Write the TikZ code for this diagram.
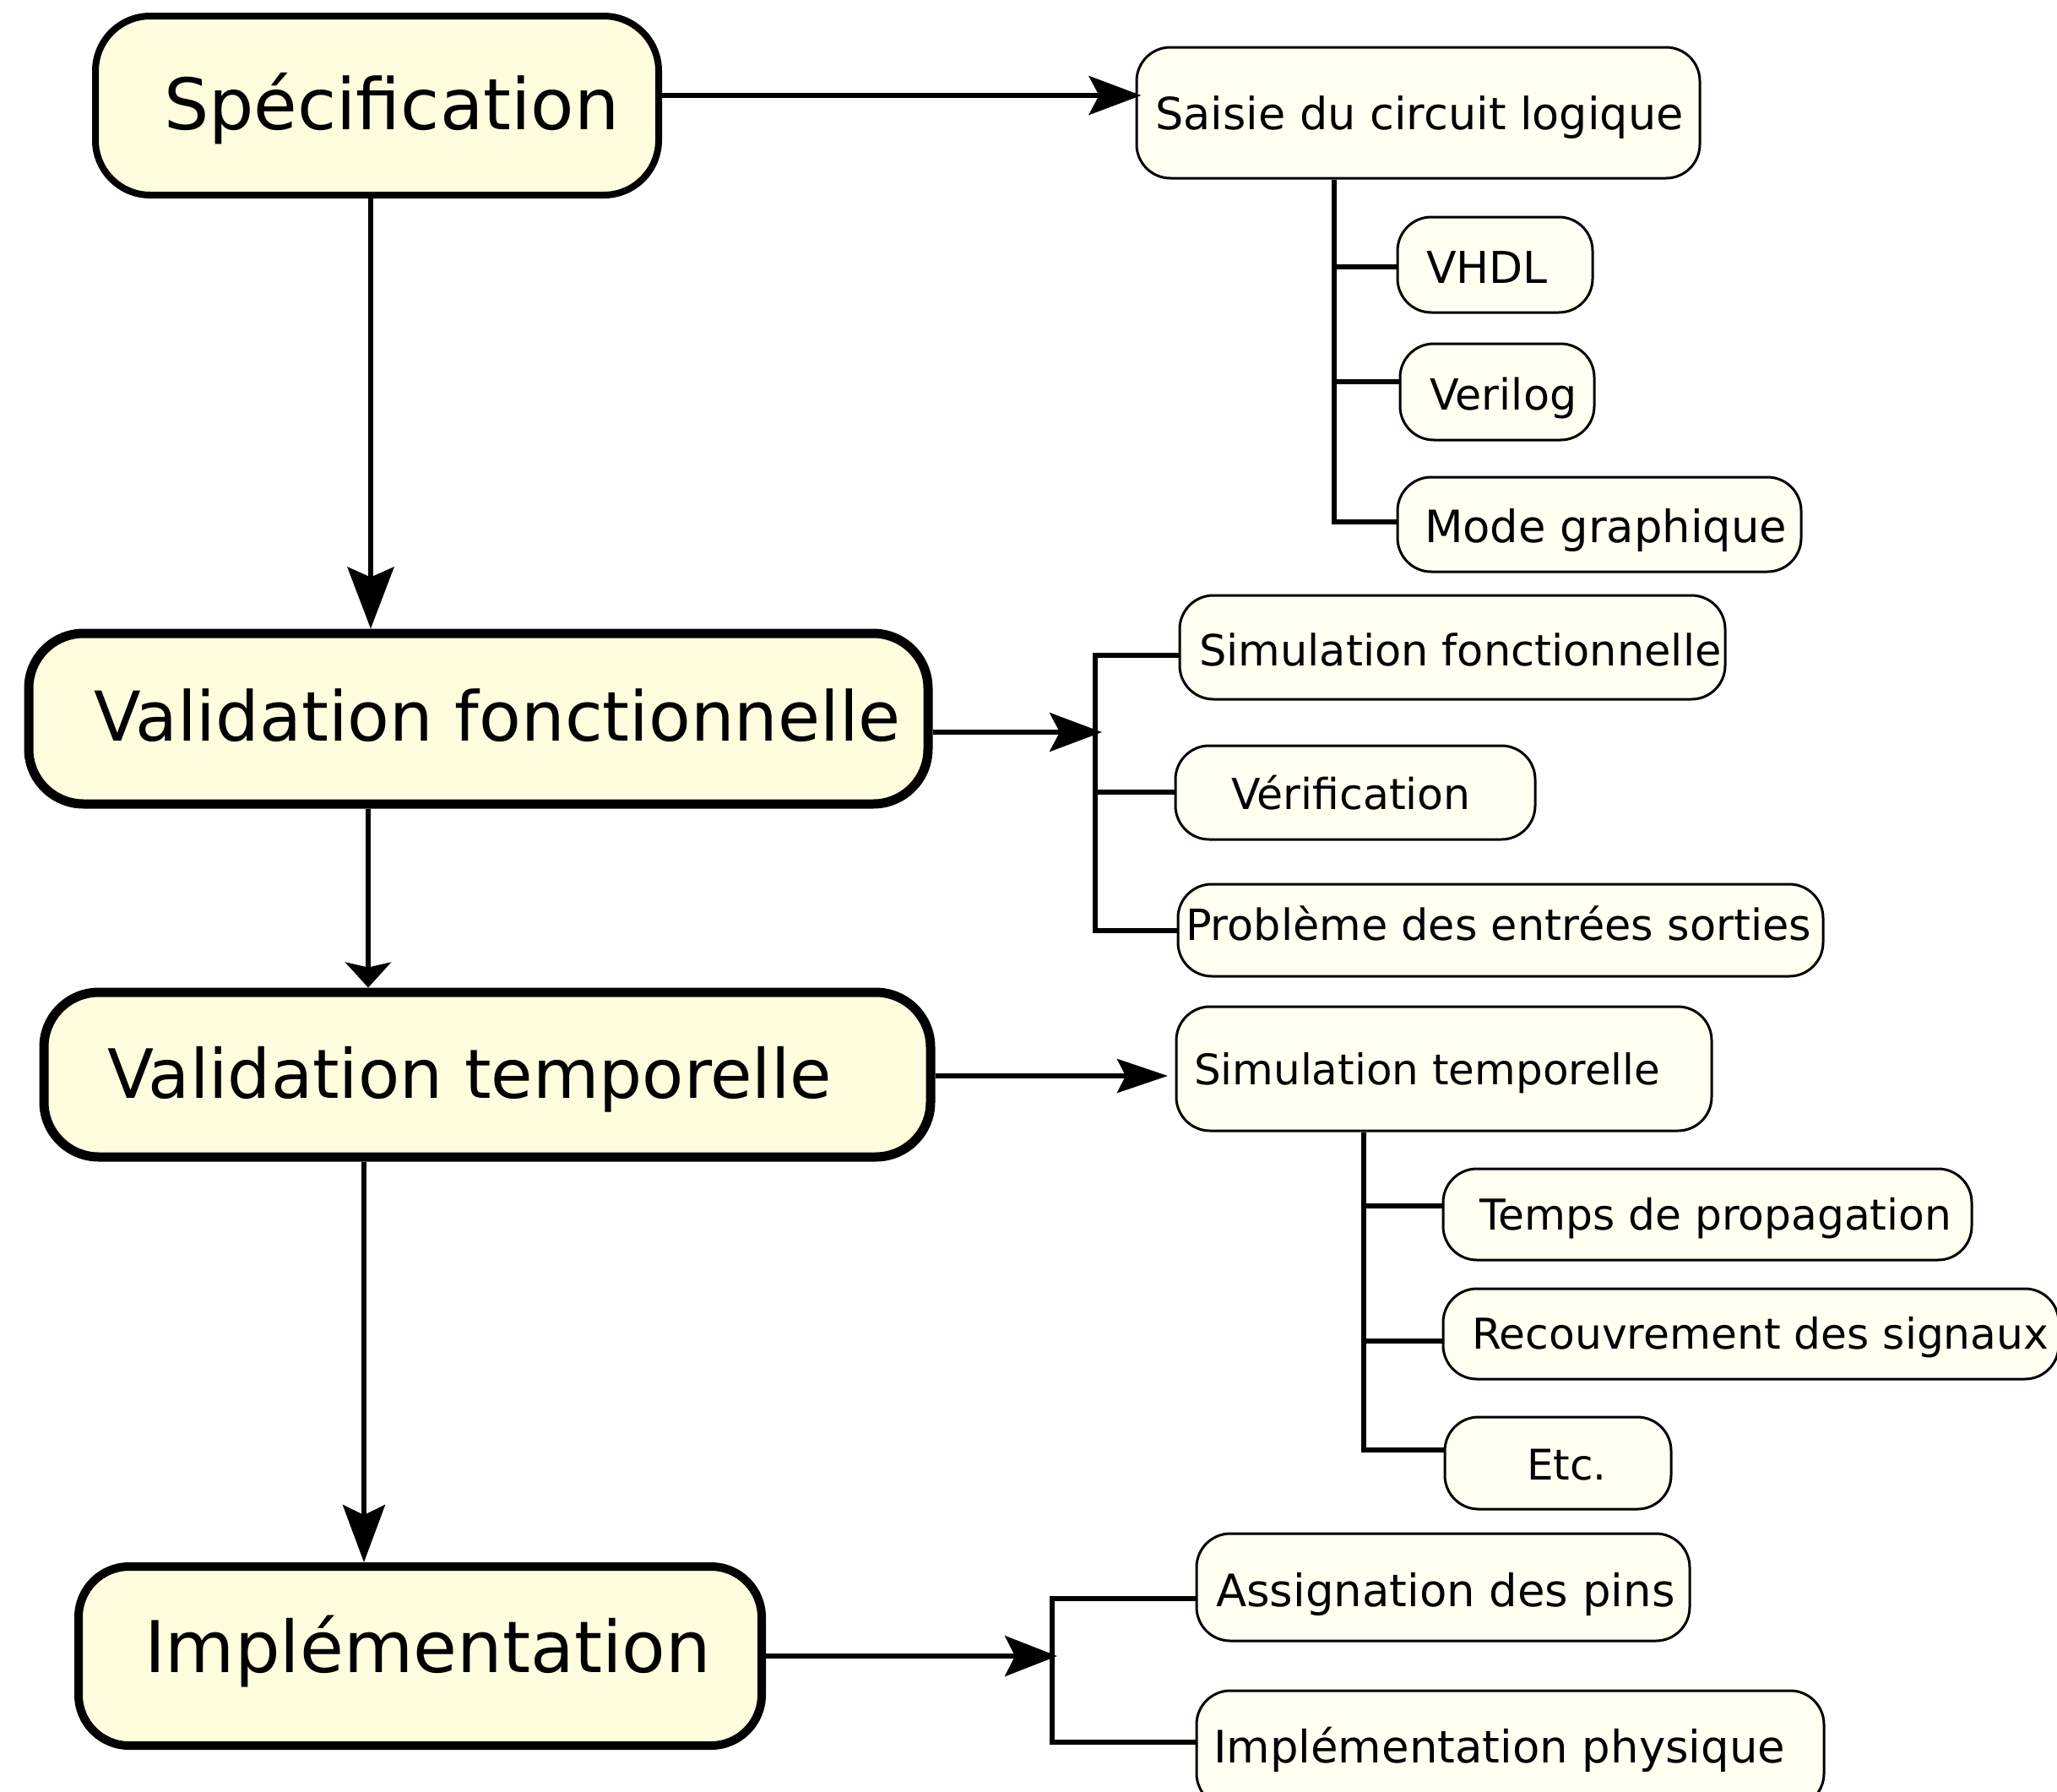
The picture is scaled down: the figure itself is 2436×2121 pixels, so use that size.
\documentclass[tikz,border=0pt]{standalone}
\usepackage{fontspec}
\setmainfont{DejaVu Sans}
\usetikzlibrary{arrows.meta}

\definecolor{mainfill}{HTML}{FFFDDE}
\definecolor{subfill}{HTML}{FFFFF2}

% text placed relative to the node centre: x offset of the origin, raise of the baseline, size
\newcommand\boxtext[4]{\makebox[0pt][l]{\hspace*{#1}\raisebox{#2}[0pt][0pt]{\fontsize{#3}{#3}\selectfont #4}}}

\begin{document}
\begin{tikzpicture}[x=1pt,y=-1pt,
  stage/.style={draw=black, fill=mainfill, rounded corners=65pt, inner sep=0pt, text height=0pt, text depth=0pt},
  task/.style={draw=black, fill=subfill, line width=3pt, rounded corners=40pt, inner sep=0pt, text height=0pt, text depth=0pt},
  link/.style={line width=5.5pt},
  tree/.style={line width=5.5pt}
]
\path[use as bounding box] (0,0) rectangle (2436,2121);
\clip (0,0) rectangle (2436,2121);
\fill[white] (0,0) rectangle (2436,2121);

% main stages
\node[stage, line width=8pt, minimum width=667pt, minimum height=212pt] (spec) at (446.5,125)
  {\boxtext{-252.5pt}{-28pt}{84}{Spécification}};
\node[stage, line width=11pt, minimum width=1065pt, minimum height=202pt] (vf) at (566.5,851)
  {\boxtext{-455.5pt}{-26pt}{81.4}{Validation fonctionnelle}};
\node[stage, line width=11pt, minimum width=1050pt, minimum height=195pt] (vt) at (577,1272.5)
  {\boxtext{-450pt}{-27.5pt}{80.5}{Validation temporelle}};
\node[stage, line width=10pt, minimum width=809pt, minimum height=212pt, rounded corners=60pt] (impl) at (497.5,1961)
  {\boxtext{-326.5pt}{-19pt}{84.5}{Implémentation}};

% tasks of each stage
\node[task, minimum width=667pt, minimum height=155pt] (saisie) at (1679.5,133.5)
  {\boxtext{-311.5pt}{-19.5pt}{52.5}{Saisie du circuit logique}};
\node[task, minimum width=231pt, minimum height=113pt] (vhdl) at (1770.5,313.5)
  {\boxtext{-81.5pt}{-21.5pt}{52}{VHDL}};
\node[task, minimum width=230pt, minimum height=114pt] (verilog) at (1773,464)
  {\boxtext{-80pt}{-21pt}{50.7}{Verilog}};
\node[task, minimum width=478pt, minimum height=112pt] (mode) at (1894,621)
  {\boxtext{-207pt}{-21pt}{52.8}{Mode graphique}};

\node[task, minimum width=646pt, minimum height=123pt] (simf) at (1720,766.5)
  {\boxtext{-300pt}{-21.5pt}{51}{Simulation fonctionnelle}};
\node[task, minimum width=426pt, minimum height=111pt] (verif) at (1605,938.5)
  {\boxtext{-147pt}{-19.5pt}{50.5}{Vérification}};
\node[task, minimum width=764pt, minimum height=109pt] (probl) at (1777,1101.5)
  {\boxtext{-373pt}{-11.5pt}{50.9}{Problème des entrées sorties}};

\node[task, minimum width=634pt, minimum height=147pt] (simt) at (1710,1265.5)
  {\boxtext{-296pt}{-18.5pt}{50}{Simulation temporelle}};
\node[task, minimum width=626pt, minimum height=108pt] (temps) at (2022,1438)
  {\boxtext{-270pt}{-18pt}{50.3}{Temps de propagation}};
\node[task, minimum width=729pt, minimum height=107pt] (recouv) at (2073.5,1579.5)
  {\boxtext{-330.5pt}{-17.5pt}{50.3}{Recouvrement des signaux}};
\node[task, minimum width=268pt, minimum height=109pt] (etc) at (1845,1732.5)
  {\boxtext{-37pt}{-19.5pt}{50}{Etc.}};

\node[task, minimum width=584pt, minimum height=127pt] (assign) at (1709,1879.5)
  {\boxtext{-269pt}{-22.5pt}{52.9}{Assignation des pins}};
\node[task, minimum width=743pt, minimum height=138pt] (physique) at (1788.5,2071)
  {\boxtext{-351.5pt}{-16pt}{52.9}{Implémentation physique}};

% junction points of the trees
\coordinate (j2) at (1305,867);
\coordinate (j4) at (1252,1961);
\coordinate (a1) at (1580,316);
\coordinate (a2) at (1580,452);
\coordinate (a3) at (1580,618);
\coordinate (b1) at (1297,776);
\coordinate (b2) at (1297,938);
\coordinate (b3) at (1297,1102);
\coordinate (c1) at (1615,1428);
\coordinate (c2) at (1615,1588);
\coordinate (c3) at (1615,1717);
\coordinate (d1) at (1246,1893);
\coordinate (d2) at (1246,2063);

% flow between stages
\draw[link, -{Stealth[length=73pt, width=55pt, inset=12pt]}] (spec.south -| 439,0) -- (vf.north -| 439,0);
\draw[link, -{Stealth[length=30pt, width=54pt, inset=6pt]}] (vf.south -| 436,0) -- (vt.north -| 436,0);
\draw[link, -{Stealth[length=68pt, width=50pt, inset=12pt]}] (vt.south -| 431,0) -- (impl.north -| 431,0);

% stages to their tasks
\draw[link, -{Stealth[length=62pt, width=46pt, inset=12pt]}, shorten >=-7pt] (spec.east |- 0,113) -- (saisie.west |- 0,113);
\draw[link, -{Stealth[length=62pt, width=46pt, inset=12pt]}] (vf.east |- j2) -- (j2);
\draw[link, -{Stealth[length=60pt, width=40pt, inset=10pt]}, shorten >=8.5pt] (vt.east |- 0,1274) -- (simt.west |- 0,1274);
\draw[link, -{Stealth[length=62pt, width=48pt, inset=12pt]}] (impl.east |- j4) -- (j4);

% task trees
\draw[tree] (saisie.south -| a1) -- (a3) -- (a3 -| mode.west);
\draw[tree] (a1) -- (a1 -| vhdl.west);
\draw[tree] (a2) -- (a2 -| verilog.west);

\draw[tree] (b1 -| simf.west) -- (b1) -- (b3) -- (b3 -| probl.west);
\draw[tree] (b2) -- (b2 -| verif.west);

\draw[tree] (simt.south -| c1) -- (c3) -- (c3 -| etc.west);
\draw[tree] (c1) -- (c1 -| temps.west);
\draw[tree] (c2) -- (c2 -| recouv.west);

\draw[tree] (d1 -| assign.west) -- (d1) -- (d2) -- (d2 -| physique.west);
\end{tikzpicture}
\end{document}
